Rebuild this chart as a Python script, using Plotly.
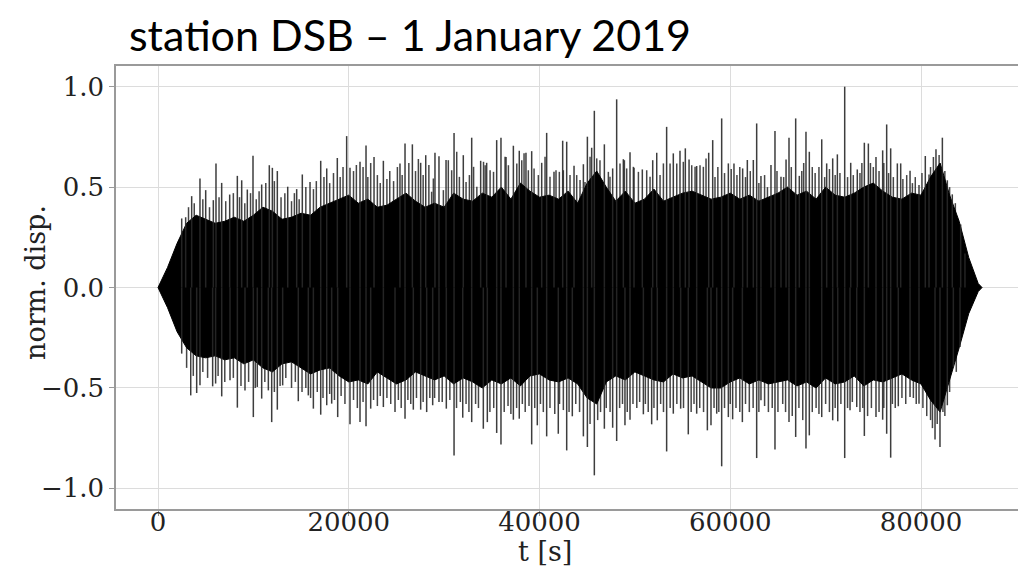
import plotly.graph_objects as go

# ---- data ----
# dense black body: upper / lower edge, every 1000 s
env_t = [0, 1000, 2000, 3000, 4000, 5000, 6000, 7000, 8000, 9000, 10000, 11000, 12000, 13000, 14000,
         15000, 16000, 17000, 18000, 19000, 20000, 21000, 22000, 23000, 24000, 25000, 26000, 27000, 28000,
         29000, 30000, 31000, 32000, 33000, 34000, 35000, 36000, 37000, 38000, 39000, 40000, 41000, 42000,
         43000, 44000, 45000, 46000, 47000, 48000, 49000, 50000, 51000, 52000, 53000, 54000, 55000, 56000,
         57000, 58000, 59000, 60000, 61000, 62000, 63000, 64000, 65000, 66000, 67000, 68000, 69000, 70000,
         71000, 72000, 73000, 74000, 75000, 76000, 77000, 78000, 79000, 80000, 81000, 82000, 83000, 84000,
         85000, 86000, 86400]
env_up = [0, 0.10, 0.22, 0.32, 0.36, 0.34, 0.32, 0.33, 0.35, 0.33, 0.36, 0.40, 0.38, 0.34, 0.35,
          0.37, 0.36, 0.40, 0.42, 0.44, 0.46, 0.42, 0.44, 0.40, 0.41, 0.44, 0.47, 0.43, 0.40,
          0.42, 0.40, 0.47, 0.44, 0.43, 0.47, 0.45, 0.50, 0.44, 0.52, 0.48, 0.45, 0.46, 0.44,
          0.48, 0.42, 0.52, 0.58, 0.50, 0.43, 0.48, 0.42, 0.44, 0.49, 0.43, 0.45, 0.47, 0.48,
          0.46, 0.44, 0.45, 0.47, 0.44, 0.46, 0.43, 0.45, 0.47, 0.50, 0.46, 0.48, 0.44, 0.50,
          0.46, 0.45, 0.47, 0.50, 0.52, 0.48, 0.45, 0.44, 0.47, 0.46, 0.55, 0.62, 0.46, 0.33,
          0.15, 0.02, 0]
env_lo = [0, -0.10, -0.22, -0.30, -0.34, -0.35, -0.34, -0.36, -0.35, -0.38, -0.36, -0.40, -0.42, -0.38, -0.37,
          -0.40, -0.43, -0.41, -0.40, -0.44, -0.47, -0.46, -0.48, -0.42, -0.45, -0.48, -0.46, -0.42, -0.44,
          -0.46, -0.44, -0.48, -0.45, -0.47, -0.50, -0.46, -0.48, -0.45, -0.49, -0.44, -0.43, -0.46, -0.47,
          -0.45, -0.48, -0.55, -0.58, -0.47, -0.44, -0.46, -0.42, -0.44, -0.46, -0.47, -0.43, -0.45, -0.44,
          -0.47, -0.50, -0.50, -0.47, -0.45, -0.48, -0.46, -0.48, -0.47, -0.46, -0.49, -0.47, -0.50, -0.45,
          -0.48, -0.47, -0.44, -0.49, -0.46, -0.47, -0.45, -0.43, -0.46, -0.48, -0.56, -0.62, -0.46, -0.30,
          -0.13, -0.02, 0]

# tallest upward spikes
peak_up_t = [2485, 2900, 3530, 4400, 5000, 5800, 6080, 6675, 7515, 8318, 8775, 9365, 9960, 10870, 11670,
             11990, 12510, 13600, 14540, 15130, 15940, 17060, 17690, 18800, 19780, 20130, 21180, 21810,
             22650, 23630, 25370, 25900, 26670, 27540, 28070,
             29040, 29460, 30200, 31040, 32010, 32890, 33830, 34460, 35510, 35960, 36490, 37260, 37880,
             38580, 39180, 40230, 40750, 41520, 42430, 42850, 43620, 44600, 45020, 45470, 45750, 46800,
             47670, 48090, 48790, 49490, 49910, 50780, 51870, 52290, 53330, 54030, 54730, 55290, 55680,
             56480, 57740,
             58160, 59100, 59800, 60390, 61300, 61790, 62420, 62770, 63220, 64270, 64690, 65320, 65850,
             66160, 66860, 67240, 67940, 68290, 69590, 70110, 70740, 71230, 72000, 72630, 73320, 74060,
             74480, 75280, 75980, 76400, 76820, 77520, 77870, 78850, 79790, 80450, 80840, 81570, 82240,
             82760, 83280, 84160, 84610]
peak_up_v = [0.344, 0.35, 0.455, 0.543, 0.485, 0.435, 0.618, 0.521, 0.463, 0.556, 0.534, 0.488, 0.656, 0.513, 0.609,
             0.596, 0.580, 0.502, 0.490, 0.563, 0.526, 0.631, 0.593, 0.645, 0.754, 0.597, 0.626, 0.707,
             0.650, 0.631, 0.618, 0.717, 0.713, 0.621, 0.659,
             0.671, 0.654, 0.635, 0.770, 0.659, 0.746, 0.631, 0.621, 0.734, 0.746, 0.650, 0.706, 0.681,
             0.671, 0.679, 0.621, 0.770, 0.576, 0.731, 0.726, 0.606, 0.614, 0.751, 0.696, 0.880, 0.713,
             0.593, 0.937, 0.639, 0.673, 0.596, 0.588, 0.634, 0.671, 0.800, 0.668, 0.681, 0.693, 0.638,
             0.605, 0.671,
             0.734, 0.842, 0.618, 0.618, 0.593, 0.635, 0.635, 0.817, 0.555, 0.610, 0.779, 0.551, 0.638,
             0.746, 0.842, 0.556, 0.776, 0.676, 0.738, 0.618, 0.643, 0.663, 1.0, 0.621, 0.588, 0.721,
             0.717, 0.650, 0.683, 0.812, 0.693, 0.618, 0.618, 0.581, 0.510, 0.655, 0.563, 0.689, 0.746,
             0.534, 0.464, 0.314, 0.17]

# medium upward spikes (the grey fringe above the black body)
mid_up_t = [3200, 3800, 4700, 5400, 6400, 7100, 7900, 8550, 9100, 9700, 10300, 10600, 11300, 12200, 12900,
            13300, 14000, 14300, 14800, 15500, 16300, 16600, 17400, 18000, 18400, 19100, 19400, 20500, 20800,
            21500, 22000, 22300, 23000, 23300, 24000, 24300, 24700, 25100, 25600, 26300, 27000, 27300, 27800,
            28400, 28690, 28870, 29920, 30440, 30790, 31320, 31600, 32300, 32650, 33090, 33430, 34130, 34300,
            34820, 35180, 36390, 36740, 37620, 38140, 38380, 38830, 39430, 39880, 40580, 41100, 41730, 42080,
            42500, 43200, 43900, 44250, 44770, 45300, 46000, 46340, 47220, 47390, 48440, 48900, 49140, 49840,
            50370, 51240, 51590, 52640, 52990, 53690, 54390, 55080, 55960, 56310, 56830, 57180, 57460,
            58400, 58700, 59400, 60100, 60700, 61000, 61600, 62100, 63000, 63600, 63900, 64900, 65600, 66400,
            67500, 67700, 68600, 68900, 69300, 69900, 70400, 71000, 71500, 72300, 72900, 73600, 73800, 74700,
            75000, 75600, 76100, 76600, 77100, 78100, 78500, 79100, 79400, 80100, 81000, 81300, 81900, 82500,
            83000, 83600]
mid_up_v = [0.40, 0.42, 0.44, 0.40, 0.45, 0.43, 0.47, 0.45, 0.42, 0.47, 0.44, 0.48, 0.52, 0.53, 0.45,
            0.47, 0.43, 0.47, 0.44, 0.50, 0.49, 0.53, 0.55, 0.52, 0.57, 0.55, 0.60, 0.58, 0.61,
            0.60, 0.55, 0.62, 0.56, 0.52, 0.54, 0.58, 0.53, 0.60, 0.56, 0.62, 0.58, 0.64, 0.56,
            0.61, 0.477, 0.543, 0.485, 0.634, 0.584, 0.676, 0.551, 0.526, 0.560, 0.601, 0.502, 0.626, 0.609,
            0.584, 0.576, 0.651, 0.609, 0.618, 0.634, 0.668, 0.584, 0.593, 0.560, 0.651, 0.551, 0.584, 0.576,
            0.584, 0.560, 0.560, 0.535, 0.526, 0.651, 0.643, 0.634, 0.576, 0.551, 0.618, 0.634, 0.593, 0.601,
            0.576, 0.584, 0.551, 0.560, 0.618, 0.618, 0.618, 0.626, 0.609, 0.601, 0.609, 0.601, 0.643,
            0.55, 0.60, 0.57, 0.59, 0.56, 0.60, 0.55, 0.58, 0.52, 0.56, 0.50, 0.58, 0.55, 0.60,
            0.58, 0.62, 0.60, 0.57, 0.60, 0.55, 0.59, 0.56, 0.57, 0.55, 0.56, 0.57, 0.62, 0.62,
            0.60, 0.58, 0.62, 0.57, 0.55, 0.54, 0.56, 0.52, 0.55, 0.57, 0.60, 0.65, 0.66, 0.58,
            0.50, 0.42]

# deepest downward spikes
peak_lo_t = [2485, 3430, 4055, 4400, 5730, 6040, 6680, 7550, 8320, 9120, 9995, 10410, 10870, 11570, 11920,
             12510, 13070, 14710, 15760, 16290, 17060, 17690, 18210, 18840, 20130, 21180, 21810, 22300,
             23630, 24850, 25900, 26770, 27540, 28170,
             28800, 29460, 30230, 31040, 31950, 32890, 34110, 34530, 35510, 35960, 37260, 37880, 39180,
             39770, 40750, 41970, 42850, 43440, 44600, 45020, 45750, 46800, 47670, 48090, 48960, 49490,
             50890, 51760, 52350, 53330, 54030, 54800, 55600, 56480, 57600,
             57980, 58580, 59100, 59800, 60250, 61270, 62770, 63220, 64690, 66160, 66860, 67940, 68290,
             69590, 70740, 71270, 72000, 72560, 73260, 74060, 75280, 75980, 76400, 76820, 77620, 78850,
             79790, 81470, 81990, 82760, 83390, 84090]
peak_lo_v = [-0.329, -0.537, -0.525, -0.487, -0.492, -0.478, -0.542, -0.462, -0.598, -0.512, -0.645, -0.495, -0.553, -0.512, -0.670,
             -0.608, -0.487, -0.566, -0.537, -0.603, -0.633, -0.586, -0.578, -0.645, -0.681, -0.670, -0.691, -0.603,
             -0.595, -0.620, -0.653, -0.608, -0.608, -0.620,
             -0.586, -0.570, -0.603, -0.836, -0.648, -0.670, -0.703, -0.670, -0.724, -0.782, -0.658, -0.653, -0.781,
             -0.686, -0.741, -0.728, -0.811, -0.641, -0.741, -0.794, -0.935, -0.703, -0.698, -0.764, -0.686, -0.658,
             -0.631, -0.681, -0.661, -0.816, -0.628, -0.603, -0.731, -0.628, -0.711,
             -0.686, -0.628, -0.890, -0.645, -0.656, -0.670, -0.849, -0.561, -0.806, -0.670, -0.744, -0.802, -0.736,
             -0.645, -0.661, -0.666, -0.849, -0.611, -0.595, -0.739, -0.645, -0.658, -0.728, -0.847, -0.591, -0.545,
             -0.578, -0.757, -0.794, -0.586, -0.395, -0.296]

# medium downward spikes
mid_lo_t = [3000, 3700, 4700, 5200, 6300, 7000, 7900, 8700, 9500, 10200, 11200, 12200, 12800, 13400, 14000,
            14400, 15100, 15500, 16000, 16700, 17300, 18000, 18500, 19200, 19600, 20500, 20900, 21500, 22600,
            23000, 23300, 24000, 24400, 25200, 25500, 26200, 26500, 27100, 27800, 28500,
            29000, 29800, 30600, 31300, 31700, 32300, 32600, 33300, 33600, 34800, 35200, 36300, 36700, 37000,
            37600, 38200, 38500, 38900, 39500, 40100, 40400, 41100, 41600, 42100, 42500, 43100, 43800, 44200,
            45300, 46100, 46400, 47000, 47400, 48400, 48700, 49200, 49800, 50200, 50500, 51100, 51400, 52000,
            52700, 53000, 53700, 54400, 55100, 55900, 56200, 56800, 57200,
            58300, 58800, 59400, 60000, 60600, 61000, 61600, 62000, 62400, 63000, 63600, 64000, 64400, 65000,
            65500, 65800, 66500, 67200, 67600, 68600, 69000, 69300, 70000, 70400, 71000, 71600, 72300, 72800,
            73600, 73900, 74400, 74800, 75600, 76100, 77000, 77300, 78000, 78400, 79200, 79500, 80200, 80600,
            81000, 81200, 81700, 82300, 82500, 83000, 83700]
mid_lo_v = [-0.40, -0.44, -0.42, -0.45, -0.44, -0.47, -0.45, -0.49, -0.47, -0.50, -0.47, -0.52, -0.49, -0.45, -0.50,
            -0.47, -0.52, -0.50, -0.55, -0.52, -0.55, -0.53, -0.56, -0.54, -0.58, -0.56, -0.60, -0.57, -0.56,
            -0.59, -0.54, -0.55, -0.58, -0.56, -0.60, -0.56, -0.58, -0.55, -0.57, -0.55,
            -0.55, -0.57, -0.56, -0.60, -0.57, -0.58, -0.62, -0.58, -0.60, -0.62, -0.60, -0.62, -0.59, -0.63,
            -0.60, -0.58, -0.62, -0.59, -0.60, -0.58, -0.62, -0.60, -0.63, -0.58, -0.61, -0.62, -0.58, -0.62,
            -0.68, -0.66, -0.62, -0.60, -0.62, -0.60, -0.58, -0.62, -0.58, -0.60, -0.57, -0.58, -0.62, -0.60,
            -0.58, -0.62, -0.60, -0.58, -0.60, -0.62, -0.58, -0.60, -0.62,
            -0.60, -0.62, -0.60, -0.58, -0.60, -0.62, -0.58, -0.62, -0.60, -0.62, -0.59, -0.62, -0.60, -0.62,
            -0.58, -0.62, -0.64, -0.60, -0.66, -0.62, -0.60, -0.63, -0.58, -0.62, -0.60, -0.58, -0.60, -0.57,
            -0.62, -0.60, -0.64, -0.60, -0.62, -0.60, -0.58, -0.60, -0.55, -0.58, -0.55, -0.58, -0.60, -0.64,
            -0.66, -0.70, -0.68, -0.62, -0.64, -0.52, -0.42]

x_ticks = [0, 20000, 40000, 60000, 80000]
x_labels = ["0", "20000", "40000", "60000", "80000"]
y_ticks = [-1.0, -0.5, 0.0, 0.5, 1.0]
y_labels = ["\u22121.0", "\u22120.5", "0.0", "0.5", "1.0"]

# ---- build traces ----
poly_x = list(env_t) + list(reversed(env_t))
poly_y = list(env_up) + list(reversed(env_lo))


def spikes(ts, vs):
    xs, ys = [], []
    for t, v in zip(ts, vs):
        xs += [t, t, None]
        ys += [0, v, None]
    return xs, ys


mx, my = spikes(mid_up_t + mid_lo_t, mid_up_v + mid_lo_v)
px, py = spikes(peak_up_t + peak_lo_t, peak_up_v + peak_lo_v)

fig = go.Figure()
fig.add_trace(go.Scatter(x=mx, y=my, mode="lines",
                         line=dict(color="rgba(50,50,50,0.9)", width=1.5),
                         hoverinfo="skip", showlegend=False))
fig.add_trace(go.Scatter(x=poly_x, y=poly_y, mode="lines", fill="toself",
                         fillcolor="black", line=dict(color="black", width=1),
                         hoverinfo="skip", showlegend=False))
fig.add_trace(go.Scatter(x=px, y=py, mode="lines",
                         line=dict(color="rgba(40,40,40,0.9)", width=1.5),
                         hoverinfo="skip", showlegend=False))

axis_font = dict(family="DejaVu Serif", size=26, color="#222")
title_font = dict(family="DejaVu Serif", size=27, color="#222")
plot_w = 1018 - 116
plot_h = 568 - 66 - 59
fig.update_layout(
    width=1018, height=568,
    margin=dict(l=116, r=0, t=66, b=59, autoexpand=False),
    paper_bgcolor="white", plot_bgcolor="white",
    showlegend=False,
    xaxis=dict(range=[-4404, 90170], tickvals=x_ticks, ticktext=x_labels, automargin=False,
               showgrid=True, gridcolor="#dcdcdc", gridwidth=1, zeroline=False,
               showline=True, linecolor="#9a9a9a", linewidth=1.5, mirror=True,
               ticks="outside", ticklen=5, tickcolor="#9a9a9a", tickfont=axis_font,
               ticklabelstandoff=-16),
    yaxis=dict(range=[-1.1026, 1.103], tickvals=y_ticks, ticktext=y_labels, automargin=False,
               showgrid=True, gridcolor="#dcdcdc", gridwidth=1, zeroline=False,
               showline=True, linecolor="#9a9a9a", linewidth=1.5,
               ticks="outside", ticklen=5, tickcolor="#9a9a9a", tickfont=axis_font),
    annotations=[
        dict(text="station DSB \u2013 1 January 2019", xref="paper", yref="paper",
             x=(127 - 116) / plot_w, y=1 + (66 - 35) / plot_h, xanchor="left", yanchor="middle",
             showarrow=False, font=dict(family="Lato", size=43, color="black")),
        dict(text="t [s]", xref="paper", yref="paper",
             x=(545 - 116) / plot_w, y=-(551 - 509) / plot_h, xanchor="center", yanchor="middle",
             showarrow=False, font=title_font),
        dict(text="norm. disp.", xref="paper", yref="paper", textangle=-90,
             x=-(116 - 35) / plot_w, y=(509 - 283) / plot_h, xanchor="center", yanchor="middle",
             showarrow=False, font=title_font),
    ],
)

fig.write_html("out.html", config={"displayModeBar": False},
               post_script="document.body.style.margin='0';document.body.style.overflow='hidden';")
